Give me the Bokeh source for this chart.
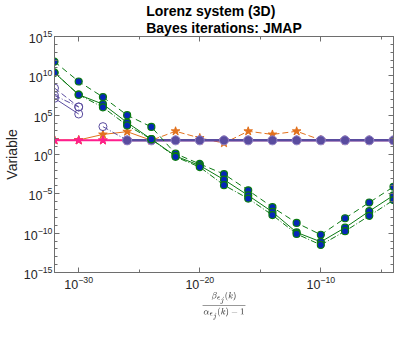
import numpy as np
from bokeh.plotting import figure
from bokeh.models import Range1d, FixedTicker, LogAxis, LogTickFormatter
from bokeh.embed import file_html
from bokeh.resources import INLINE

# ---- data ----
x_vals = [1e-32, 1e-30, 1e-28, 1e-26, 1e-24, 1e-22, 1e-20, 1e-18,
          1e-16, 1e-14, 1e-12, 1e-10, 1e-8, 1e-6, 1e-4]

green_dash = [6.3e11, 1.9e9, 2.0e7, 1.0e5, 3.2e3, 1.26, 6.3e-2, 3.2e-3,
              2.8e-5, 2.0e-7, 2.0e-9, 6.3e-11, 7.9e-9, 7.9e-7, 7.9e-5]
green_solid = [2.5e10, 4.0e7, 2.5e6, 1.15e4, 89, 0.63, 0.04, 6.3e-4,
               6.3e-6, 5.0e-8, 1.26e-10, 7.9e-12, 5.0e-10, 6.3e-8, 6.3e-6]
green_dashdot = [2.5e10, 4.0e7, 1.0e6, 5.0e3, 89, 0.5, 0.025, 1.26e-4,
                 2.5e-6, 2.0e-8, 7.9e-11, 3.2e-12, 1.8e-10, 1.6e-8, 1.6e-6]

nan = float("nan")
purple_open_dash = [2.8e8, 1.1e6] + [nan] * 13
purple_open_dashdot = [3.2e7, 1.1e6] + [nan] * 13
purple_open_solid = [1.4e7, 1.4e5] + [nan] * 13
purple_open_late = [nan, nan, 3.5e3, 63] + [nan] * 11

purple_filled = [nan, nan, nan, 63, 63, 63, 63, 63, 63, 63, 63, 63, 63, 63, 63]
magenta_star = [63] * 15

orange_solid = [70, 70, 355, 800, 63, 63, 63, 63, 63, 63, 63, 63, 63, 63, 63]
orange_dash = [63, 63, 63, 63, 63, 900, 126, 28, 900, 355, 900, 70, 63, 63, 63]

x_major = [1e-30, 1e-20, 1e-10]
x_minor = [1e-25, 1e-15, 1e-5]
y_major = [1e-15, 1e-10, 1e-5, 1e0, 1e5, 1e10, 1e15]
y_minor = [1e-15, 1e-14, 1e-13, 1e-12, 1e-11, 1e-10, 1e-9, 1e-8, 1e-7,
           1e-6, 1e-5, 1e-4, 1e-3, 1e-2, 1e-1, 1e0, 1e1, 1e2, 1e3, 1e4, 1e5,
           1e6, 1e7, 1e8, 1e9, 1e10, 1e11, 1e12, 1e13, 1e14, 1e15]

x_label_tex = r"$$\frac{\beta_{\epsilon_j}(k)}{\alpha_{\epsilon_j}(k)-1}$$"
y_label = "Variable"
title_text = "Lorenz system (3D)\nBayes iterations: JMAP"

GREEN = "#0B7A12"
BLUE = "#0626B8"
PURPLE = "#5A4C9F"
PURPLE_EDGE = "#8E84C6"
ORANGE = "#E2711D"
MAGENTA = "#FF1E8E"
AX = "#6E6E6E"
FONT = "Liberation Sans"

p = figure(width=395, height=322, x_axis_type="log", y_axis_type="log",
           x_range=Range1d(1e-32, 1e-4), y_range=Range1d(1e-15, 1e15),
           output_backend="svg", toolbar_location=None,
           min_border_left=44, min_border_right=2, min_border_top=2,
           min_border_bottom=20)
p.title.text = title_text
p.title.align = "center"
p.title.text_font = FONT
p.title.text_font_size = "14px"
p.title.text_font_style = "bold"
p.title.text_line_height = 1.1
p.title.standoff = 0
p.title.text_color = "black"

p.xgrid.visible = False
p.ygrid.visible = False
p.outline_line_color = AX
p.background_fill_color = "white"
p.border_fill_color = "white"

def style_axis(ax, ticks, minor, show_labels):
    ax.ticker = FixedTicker(ticks=ticks, minor_ticks=minor)
    ax.axis_line_color = AX
    ax.major_tick_line_color = AX
    ax.minor_tick_line_color = AX
    ax.major_tick_in = 5
    ax.major_tick_out = 0
    ax.minor_tick_in = 3
    ax.minor_tick_out = 0
    ax.major_label_text_font = FONT
    ax.major_label_text_color = "#262626"
    if show_labels:
        ax.formatter = LogTickFormatter()
        ax.major_label_text_font_size = "12.5px"
    else:
        ax.major_label_overrides = {t: " " for t in ticks}
        ax.major_label_text_font_size = "1px"
        ax.major_label_text_alpha = 0
        ax.major_label_standoff = 0

style_axis(p.xaxis[0], x_major, x_minor, True)
style_axis(p.yaxis[0], y_major, y_minor, True)
p.xaxis[0].major_label_standoff = 3
p.yaxis[0].major_label_standoff = 2

p.yaxis.axis_label = y_label
p.yaxis.axis_label_text_font = FONT
p.yaxis.axis_label_text_font_size = "14px"
p.yaxis.axis_label_text_font_style = "normal"
p.yaxis.axis_label_standoff = 1
p.yaxis.axis_label_text_color = "#262626"

p.xaxis.axis_label = x_label_tex
p.xaxis.axis_label_text_font_size = "8px"
p.xaxis.axis_label_standoff = 0

top_ax = LogAxis()
style_axis(top_ax, x_major, x_minor, False)
p.add_layout(top_ax, "above")
right_ax = LogAxis()
style_axis(right_ax, y_major, y_minor, False)
p.add_layout(right_ax, "right")

# ---- orange ----
p.line(x_vals, orange_solid, color=ORANGE, line_width=1)
p.line(x_vals, orange_dash, color=ORANGE, line_width=1, line_dash="6 3")
p.scatter(x_vals, orange_solid, marker="star", size=9, fill_color=ORANGE,
          line_color=ORANGE)
p.scatter(x_vals, orange_dash, marker="star", size=9, fill_color=ORANGE,
          line_color=ORANGE)

# ---- magenta ----
p.line(x_vals, magenta_star, color=MAGENTA, line_width=2)
p.scatter(x_vals, magenta_star, marker="star", size=9, fill_color=MAGENTA,
          line_color=MAGENTA)

# ---- purple ----
p.line(x_vals, purple_open_dash, color=PURPLE, line_width=1, line_dash="6 3")
p.line(x_vals, purple_open_dashdot, color=PURPLE, line_width=1, line_dash="6 2 1 2")
p.line(x_vals, purple_open_solid, color=PURPLE, line_width=1)
p.line(x_vals, purple_open_late, color=PURPLE, line_width=1, line_dash="6 2 1 2")
for ys in (purple_open_dash, purple_open_dashdot, purple_open_solid, purple_open_late):
    p.scatter(x_vals, ys, marker="circle", size=8, fill_color=None,
              line_color=PURPLE, line_width=1)
p.line(x_vals, purple_filled, color=PURPLE, line_width=2.5)
p.scatter(x_vals, purple_filled, marker="circle", size=9, fill_color=PURPLE,
          line_color=PURPLE_EDGE, line_width=1)

# ---- green ----
p.line(x_vals, green_dash, color=GREEN, line_width=1, line_dash="6 4")
p.line(x_vals, green_solid, color=GREEN, line_width=1)
p.line(x_vals, green_dashdot, color=GREEN, line_width=1, line_dash="6 2 1 2")
for ys in (green_dash, green_solid, green_dashdot):
    p.scatter(x_vals, ys, marker="circle", size=7, fill_color=BLUE,
              line_color=GREEN, line_width=1.2)

open("out.html", "w").write(file_html(p, INLINE))
